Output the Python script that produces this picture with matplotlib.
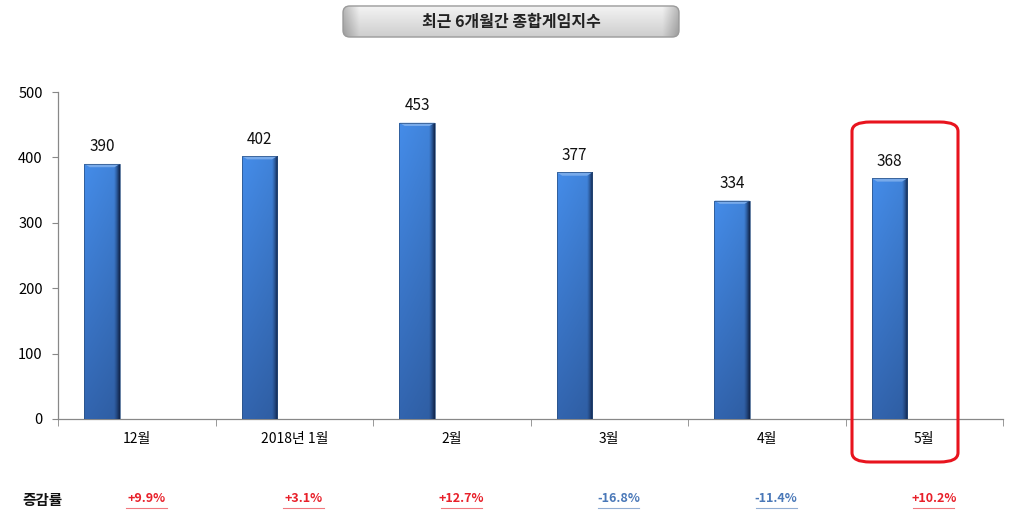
import matplotlib
matplotlib.use("Agg")
import matplotlib.pyplot as plt
import numpy as np
from matplotlib.patches import FancyBboxPatch, Rectangle, Polygon

plt.rcParams['font.family'] = ['Noto Sans CJK KR', 'DejaVu Sans']

title = "최근 6개월간 종합게임지수"
categories = ["12월", "2018년 1월", "2월", "3월", "4월", "5월"]
values = [390, 402, 453, 377, 334, 368]
changes = ["+9.9%", "+3.1%", "+12.7%", "-16.8%", "-11.4%", "+10.2%"]
change_label = "증감률"
yticks = [0, 100, 200, 300, 400, 500]

fig = plt.figure(figsize=(10.19, 5.17), dpi=100)
ax = fig.add_axes([58/1019, 1-419/517, (1003-58)/1019, (419-92)/517])

x = np.arange(len(categories))
bar_off = -0.22
bar_w = 0.225
bars = ax.bar(x + bar_off, values, width=bar_w, color="#3a78c8", zorder=2)

# gradient overlay for bars
h = np.linspace(0, 1, 64)
v = np.linspace(0, 1, 128)
H, V = np.meshgrid(h, v)
top = np.array([0.26, 0.53, 0.88])
bot = np.array([0.19, 0.38, 0.66])
dark = np.array([0.07, 0.15, 0.30])
img = np.zeros(H.shape + (3,))
for c in range(3):
    base = bot[c] * (1 - V) + top[c] * V
    base = base * (1.04 - 0.08 * H)
    edge = np.clip((H - 0.84) / 0.16, 0, 1) ** 1.2
    base = base * (1 - edge) + dark[c] * edge
    img[..., c] = np.clip(base, 0, 1)
for b in bars:
    x0, y0, w, hh = b.get_x(), b.get_y(), b.get_width(), b.get_height()
    im = ax.imshow(img, extent=[x0, x0 + w, y0, y0 + hh], origin="lower",
                   aspect="auto", zorder=3, interpolation="bilinear")
    im.set_clip_path(b)
    cap = 5
    ax.add_patch(Polygon([[x0, y0 + hh], [x0 + w, y0 + hh],
                          [x0 + w * 0.85, y0 + hh - cap], [x0 + w * 0.15, y0 + hh - cap]],
                         closed=True, facecolor="#78aaea", edgecolor="none", zorder=4))
    ax.add_patch(Rectangle((x0, y0), w, hh, fill=False, edgecolor="#2a4f80",
                           linewidth=0.5, zorder=5))

for xi, val in zip(x, values):
    ax.text(xi + bar_off, val + 13, f"{val}", ha="center", va="bottom",
            fontsize=11, color="#111111", zorder=6)

ax.set_xlim(-0.5, len(categories) - 0.5)
ax.set_ylim(0, 500)
ax.set_yticks(yticks)
ax.set_yticklabels([str(t) for t in yticks], fontsize=10.5)
ax.set_xticks(x)
ax.set_xticklabels(categories, fontsize=10)
ax.set_xticks(np.arange(len(categories) + 1) - 0.5, minor=True)
ax.tick_params(axis="x", which="major", length=0, pad=9)
ax.tick_params(axis="x", which="minor", length=5, color="#888888", direction="out")
ax.tick_params(axis="y", length=4, color="#888888", pad=7)
for s in ["top", "right"]:
    ax.spines[s].set_visible(False)
for s in ["left", "bottom"]:
    ax.spines[s].set_color("#888888")
    ax.spines[s].set_linewidth(0.9)

# Title box with gradient
tax = fig.add_axes([342/1019, 1 - 38/517, 338/1019, 33/517])
tax.set_xlim(0, 1)
tax.set_ylim(0, 1)
tax.axis("off")
gy = np.linspace(0, 1, 64)[:, None]
gx = np.linspace(0, 1, 256)[None, :]
shade = 0.80 + 0.16 * gy
endfade = np.clip(1 - np.minimum(gx, 1 - gx) / 0.05, 0, 1)
shade = shade * (1 - 0.25 * endfade)
timg = np.repeat(shade[..., None], 3, axis=2) * np.ones((64, 256, 3))
box = FancyBboxPatch((0.003, 0.03), 0.994, 0.94,
                     boxstyle="round,pad=0,rounding_size=0.02",
                     facecolor="none", edgecolor="#9a9a9a", linewidth=1.0,
                     transform=tax.transAxes, mutation_aspect=10)
tax.add_patch(box)
tim = tax.imshow(np.clip(timg, 0, 1), extent=[0, 1, 0, 1], origin="lower",
                 aspect="auto", interpolation="bilinear", zorder=0)
tim.set_clip_path(box)
tax.text(0.5, 0.5, title, ha="center", va="center", fontsize=11.5,
         fontweight="bold", color="#222222", transform=tax.transAxes)

# highlight box around last bar
hb = FancyBboxPatch((852/1019, 1 - 462/517), 106/1019, 340/517,
                    boxstyle="round,pad=0,rounding_size=0.018",
                    transform=fig.transFigure, facecolor="none",
                    edgecolor="#e8141e", linewidth=2.2, zorder=10)
fig.patches.append(hb)

# change row
fig.text(22/1019, 1 - 500/517, change_label, ha="left", va="center",
         fontsize=10.5, fontweight="bold", color="#111111")
trans = matplotlib.transforms.blended_transform_factory(ax.transData, fig.transFigure)
for xi, ch in zip(x, changes):
    col = "#e8202a" if ch.startswith("+") else "#4a78b8"
    ax.text(xi + 0.06, 1 - 499/517, ch, transform=trans, ha="center",
            va="center", fontsize=9, fontweight="bold", color=col,
            clip_on=False)
    ax.plot([xi + 0.06 - 0.13, xi + 0.06 + 0.13], [1 - 508/517] * 2,
            transform=trans, color=col, lw=0.8, alpha=0.6, clip_on=False)

fig.savefig("out.png", dpi=100)
